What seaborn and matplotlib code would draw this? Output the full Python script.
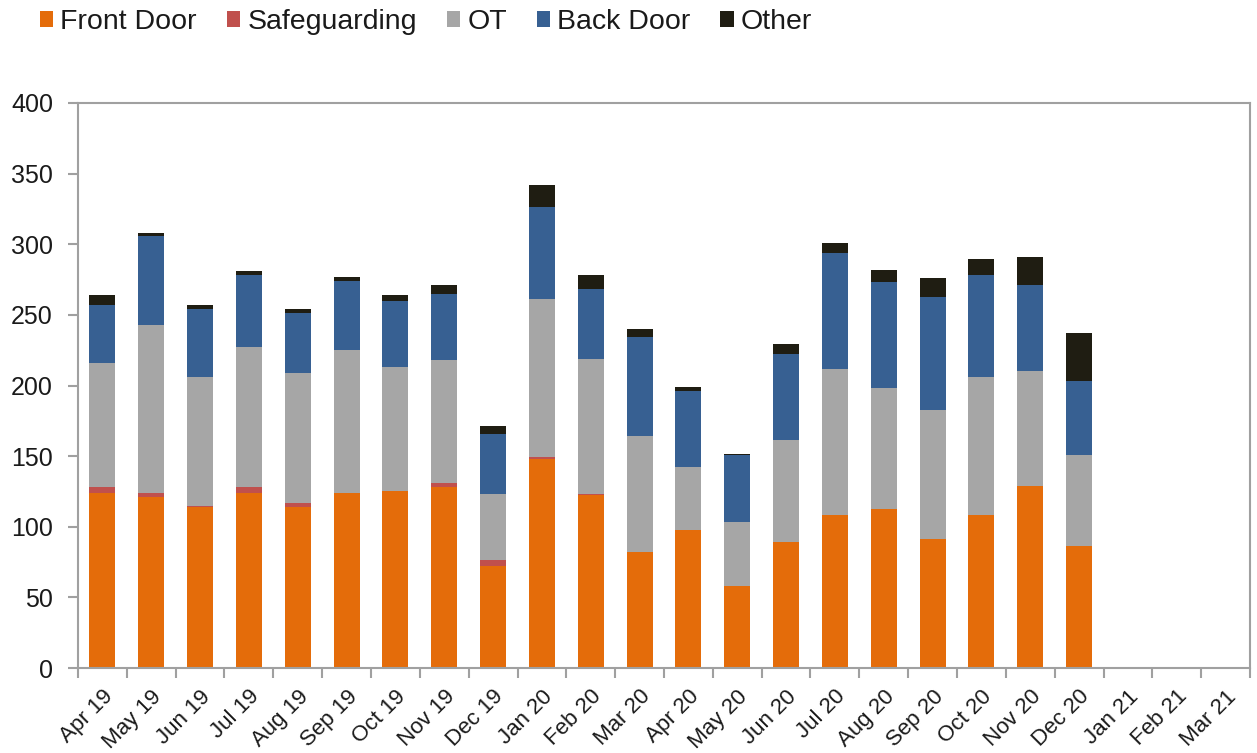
import numpy as np
import pandas as pd
import matplotlib
matplotlib.use("Agg")
import matplotlib.pyplot as plt
from matplotlib.patches import Patch
import seaborn as sns

# -----------------------------
# DATA
# -----------------------------
months = ["Apr 19", "May 19", "Jun 19", "Jul 19", "Aug 19", "Sep 19", "Oct 19",
          "Nov 19", "Dec 19", "Jan 20", "Feb 20", "Mar 20", "Apr 20", "May 20",
          "Jun 20", "Jul 20", "Aug 20", "Sep 20", "Oct 20", "Nov 20", "Dec 20",
          "Jan 21", "Feb 21", "Mar 21"]

front_door = [124, 121, 114, 124, 114, 124, 125, 128, 72.5, 148, 122.5, 82, 98, 58,
              89, 108, 112.5, 91, 108, 129, 86.5, 0, 0, 0]
safeguarding = [4, 3, 1, 4, 3, 0, 0, 3, 4, 1.3, 1, 0, 0, 0,
                0, 0, 0, 0, 0, 0, 0, 0, 0, 0]
ot = [88, 119, 91, 99, 92, 101, 88, 87, 46.5, 112, 95, 82.5, 44, 45.5,
      72.5, 104, 86, 92, 98, 81, 64, 0, 0, 0]
back_door = [41, 63, 48.5, 51, 42, 49, 47, 46.5, 42.5, 65, 49.5, 69.5, 54, 47,
             61, 82, 75, 80, 72.5, 61, 52.5, 0, 0, 0]
other = [7, 2, 2.5, 3, 3, 3, 4, 7, 6, 16, 10, 6, 3, 1.3,
         7, 7, 8.5, 13, 11, 20, 34, 0, 0, 0]

series = ["Front Door", "Safeguarding", "OT", "Back Door", "Other"]
colors = ["#E46C0A", "#C0504D", "#A6A6A6", "#376092", "#1F1D12"]

df = pd.DataFrame({
    "month": months,
    "Front Door": front_door,
    "Safeguarding": safeguarding,
    "OT": ot,
    "Back Door": back_door,
    "Other": other,
})

# -----------------------------
# STYLE
# -----------------------------
sns.set_style("white")
plt.rcParams["font.family"] = ["Liberation Sans", "DejaVu Sans"]

W, H = 1257, 753
fig = plt.figure(figsize=(W / 100, H / 100), dpi=100)
ax = fig.add_axes([78 / W, 1 - 668 / H, (1250 - 78) / W, (668 - 103) / H])

# -----------------------------
# STACKED BARS
# -----------------------------
bottom = np.zeros(len(df))
for name, col in zip(series, colors):
    sns.barplot(data=df, x="month", y=name, order=months, bottom=bottom,
                color=col, width=0.53, errorbar=None, linewidth=0,
                saturation=1, ax=ax)
    bottom = bottom + df[name].values

# -----------------------------
# AXES
# -----------------------------
ax.set_ylim(0, 400)
ax.set_xlim(-0.5, len(months) - 0.5)
ax.set_yticks(np.arange(0, 401, 50))
ax.set_xlabel("")
ax.set_ylabel("")

spine_col = "#A0A0A0"
text_col = "#1A1A1A"
for s in ax.spines.values():
    s.set_visible(True)
    s.set_color(spine_col)
    s.set_linewidth(1.5)

# x ticks at category boundaries, labels under bars
ax.set_xticks(np.arange(-0.5, len(months), 1), minor=False)
ax.set_xticklabels([])
ax.set_xticks(np.arange(len(months)), minor=True)
ax.set_xticklabels(months, minor=True, rotation=45, ha="right",
                   rotation_mode="anchor", fontsize=16, color=text_col)
ax.tick_params(axis="x", which="major", direction="out", length=7,
               width=1.5, color=spine_col, bottom=True)
ax.tick_params(axis="x", which="minor", length=0, pad=13)
ax.tick_params(axis="y", direction="out", length=7, width=1.5, pad=11,
               color=spine_col, left=True, labelsize=18, labelcolor=text_col)

# -----------------------------
# LEGEND
# -----------------------------
handles = [Patch(facecolor=c, edgecolor="none") for c in colors]
fig.legend(handles, series, loc="center left", bbox_to_anchor=(40 / W, 1 - 22 / H),
           ncol=5, frameon=False, fontsize=20.5, handlelength=0.47,
           handleheight=0.47, handletextpad=0.25, columnspacing=1.05,
           borderpad=0, borderaxespad=0, labelcolor=text_col)

plt.savefig("out.png", dpi=100)
